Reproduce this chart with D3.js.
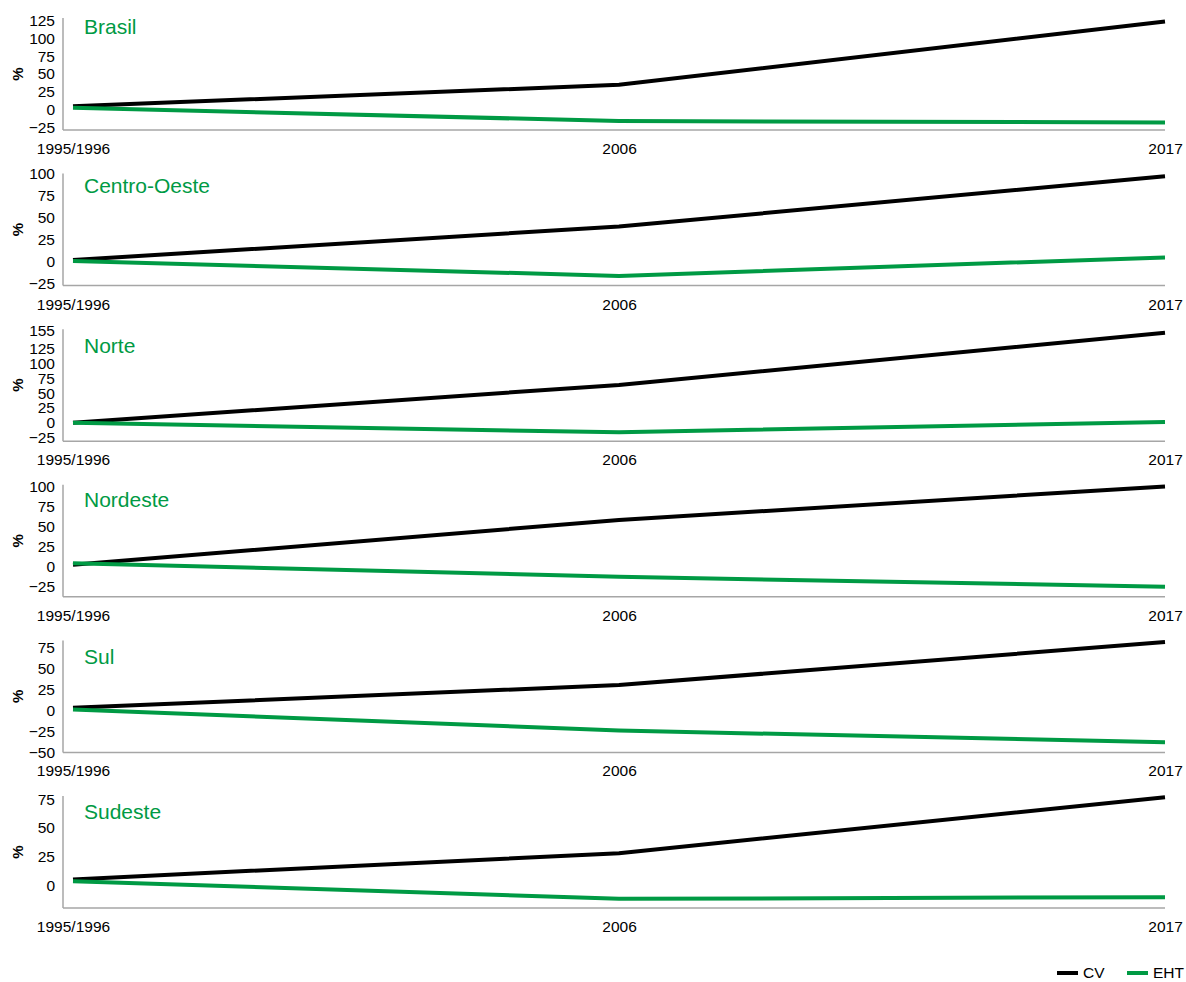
<!DOCTYPE html>
<html lang="pt">
<head>
<meta charset="utf-8">
<title>CV e EHT por região</title>
<script src="https://d3js.org/d3.v7.min.js"></script>
<style>
  body { margin: 0; background: #fff; }
  svg text { font-family: "Liberation Sans", Arial, sans-serif; }
</style>
</head>
<body>
<div id="chart"></div>
<script>
// ---------- data ----------
var years = ["1995/1996", "2006", "2017"];
var regions = ["Brasil", "Centro-Oeste", "Norte", "Nordeste", "Sul", "Sudeste"];

var cv = [
  [5, 35, 123],
  [2, 40, 97],
  [0, 64, 152],
  [2, 58, 100],
  [3, 30, 81],
  [5, 28, 77]
];
var eht = [
  [3, -15.5, -17.5],
  [1, -16, 5],
  [0, -16, 1.5],
  [4, -13, -25.5],
  [1, -24, -38],
  [3.5, -12, -10.5]
];

var yTicks = [
  [-25, 0, 25, 50, 75, 100, 125],
  [-25, 0, 25, 50, 75, 100],
  [-25, 0, 25, 50, 75, 100, 125, 155],
  [-25, 0, 25, 50, 75, 100],
  [-50, -25, 0, 25, 50, 75],
  [0, 25, 50, 75]
];
var yDomains = [
  [-28, 128],
  [-27, 100],
  [-31, 158],
  [-38, 102],
  [-50, 83],
  [-20, 78]
];

// ---------- layout ----------
var width = 1186, height = 982;
var x0 = 63, x1 = 1165;
var panelTop = 18, panelStep = 155.6, panelH = 112;
var titleOffset = [9, 12, 16, 15, 16, 16];
var black = "#000", green = "#009a44", axisGray = "#a6a6a6";

var svg = d3.select("#chart").append("svg")
  .attr("width", width)
  .attr("height", height);

var x = d3.scalePoint()
  .domain(years)
  .range([73, 1165]);

regions.forEach(function(name, i) {
  var top = panelTop + i * panelStep;
  var bottom = top + panelH;

  var y = d3.scaleLinear()
    .domain(yDomains[i])
    .range([bottom, top]);

  var g = svg.append("g");

  // y tick labels
  g.append("g")
    .attr("transform", "translate(" + x0 + ",0)")
    .call(d3.axisLeft(y).tickValues(yTicks[i]).tickSize(0).tickPadding(8))
    .call(function(a) {
      a.select(".domain").remove();
      a.selectAll("text").attr("font-size", 15.5).attr("fill", "#000")
        .attr("font-family", "Liberation Sans, Arial, sans-serif");
    });

  // axis lines
  g.append("line")
    .attr("x1", x0).attr("x2", x0)
    .attr("y1", top).attr("y2", bottom)
    .attr("stroke", axisGray).attr("stroke-width", 1.5);
  g.append("line")
    .attr("x1", x0).attr("x2", x1)
    .attr("y1", bottom).attr("y2", bottom)
    .attr("stroke", axisGray).attr("stroke-width", 1.5);

  // x labels
  g.append("g")
    .attr("transform", "translate(0," + bottom + ")")
    .call(d3.axisBottom(x).tickSize(0).tickPadding(13))
    .call(function(a) {
      a.select(".domain").remove();
      a.selectAll("text").attr("font-size", 15.5).attr("fill", "#000")
        .attr("font-family", "Liberation Sans, Arial, sans-serif");
    });

  // % label
  g.append("text")
    .attr("transform", "translate(23," + (top + 56) + ") rotate(-90)")
    .attr("text-anchor", "middle")
    .attr("font-size", 15)
    .attr("font-weight", "bold")
    .text("%");

  // title
  g.append("text")
    .attr("x", 84)
    .attr("y", top + titleOffset[i])
    .attr("dy", "0.35em")
    .attr("font-size", 21)
    .attr("fill", green)
    .text(name);

  var line = d3.line()
    .x(function(d, j) { return x(years[j]); })
    .y(function(d) { return y(d); });

  g.append("path")
    .datum(cv[i])
    .attr("d", line)
    .attr("fill", "none")
    .attr("stroke", black)
    .attr("stroke-width", 4);

  g.append("path")
    .datum(eht[i])
    .attr("d", line)
    .attr("fill", "none")
    .attr("stroke", green)
    .attr("stroke-width", 4);
});

// legend
var legend = svg.append("g").attr("transform", "translate(0,973)");
[["CV", black, 1057], ["EHT", green, 1127]].forEach(function(l) {
  legend.append("line")
    .attr("x1", l[2]).attr("x2", l[2] + 21)
    .attr("y1", 0).attr("y2", 0)
    .attr("stroke", l[1]).attr("stroke-width", 4);
  legend.append("text")
    .attr("x", l[2] + 26)
    .attr("y", 0)
    .attr("dy", "0.35em")
    .attr("font-size", 15.5)
    .text(l[0]);
});
</script>
</body>
</html>
